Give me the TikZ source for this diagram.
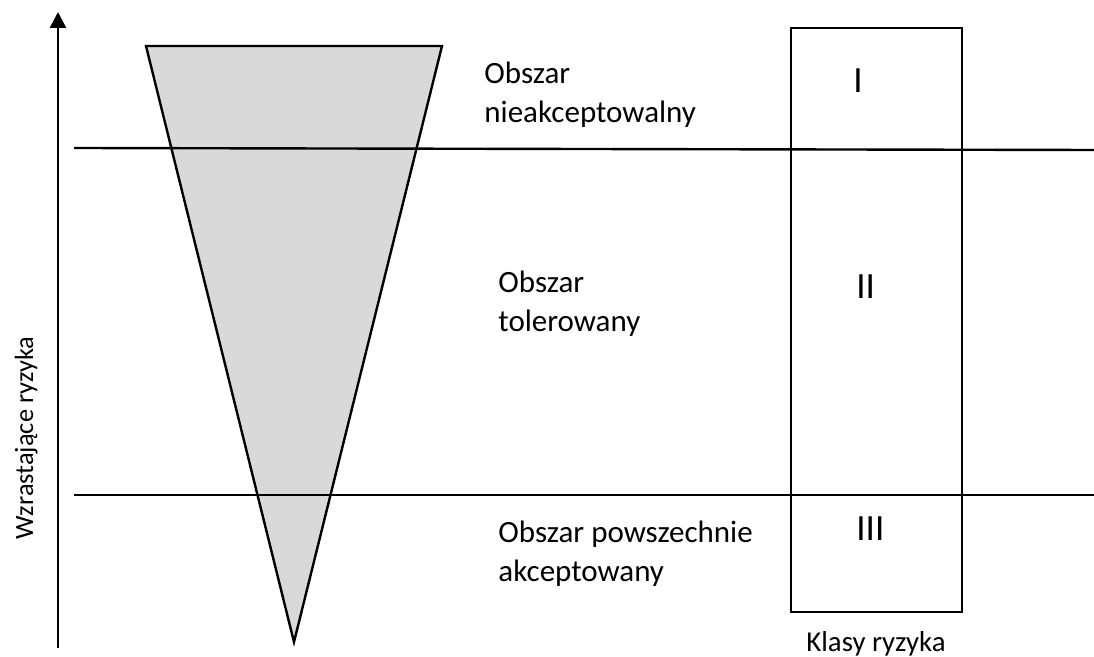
\documentclass[tikz,border=0pt]{standalone}
\usepackage{fontspec}
\setmainfont{Carlito}
\usepackage{tikz}
\usetikzlibrary{arrows.meta,positioning}

\tikzset{
  areatext/.style={anchor=base west,inner sep=0pt,align=left,font=\fontsize{15.5}{19.8}\selectfont},
  classnum/.style={anchor=base west,inner sep=0pt,font=\fontsize{18.5}{22}\selectfont},
  plainline/.style={line width=1.2pt},
}

\begin{document}
\begin{tikzpicture}[x=0.5pt,y=0.5pt,yscale=-1,xscale=1]
\useasboundingbox (0,0) rectangle (1094,657);

%Shape: Triangle
\draw [fill={rgb, 255:red, 217; green, 217; blue, 217 }][plainline][line join=miter] (146,46) -- (442,46) -- (294,642) -- cycle ;

%Straight Lines
\draw [plainline] (74,148) -- (1094,150) ;
%Straight Lines
\draw [plainline] (74,495) -- (1094,495) ;

%Shape: Rectangle
\draw [plainline] (791,28) rectangle (962,612) ;

%Straight Lines (axis)
\coordinate (axisbot) at (58,648);
\coordinate (axistop) at (58,12);
\draw [plainline,-{Triangle[length=8pt,width=8pt]}] (axisbot) -- (axistop) ;

% Text Node
\node (unacc) [areatext] at (484,123) {Obszar\\nieakceptowalny};
% Text Node
\node (toler) [areatext] at (498,332) {Obszar\\tolerowany};
% Text Node
\node (broad) [areatext] at (498,582) {Obszar powszechnie\\akceptowany};

% Text Node
\node (clsI) [classnum] at (853,93) {I};
% Text Node
\node (clsII) [classnum] at (856,299) {II};
% Text Node
\node (clsIII) [classnum] at (856,541) {III};

% Text Node
\node (classes) [anchor=base,inner sep=0pt,font=\fontsize{14.4}{16}\selectfont] at (876,652) {Klasy ryzyka};
% Text Node
\node (riskaxis) [anchor=base,inner sep=0pt,rotate=90,font=\fontsize{13.2}{15}\selectfont] at (33,438) {Wzrastające ryzyka};

\end{tikzpicture}
\end{document}
